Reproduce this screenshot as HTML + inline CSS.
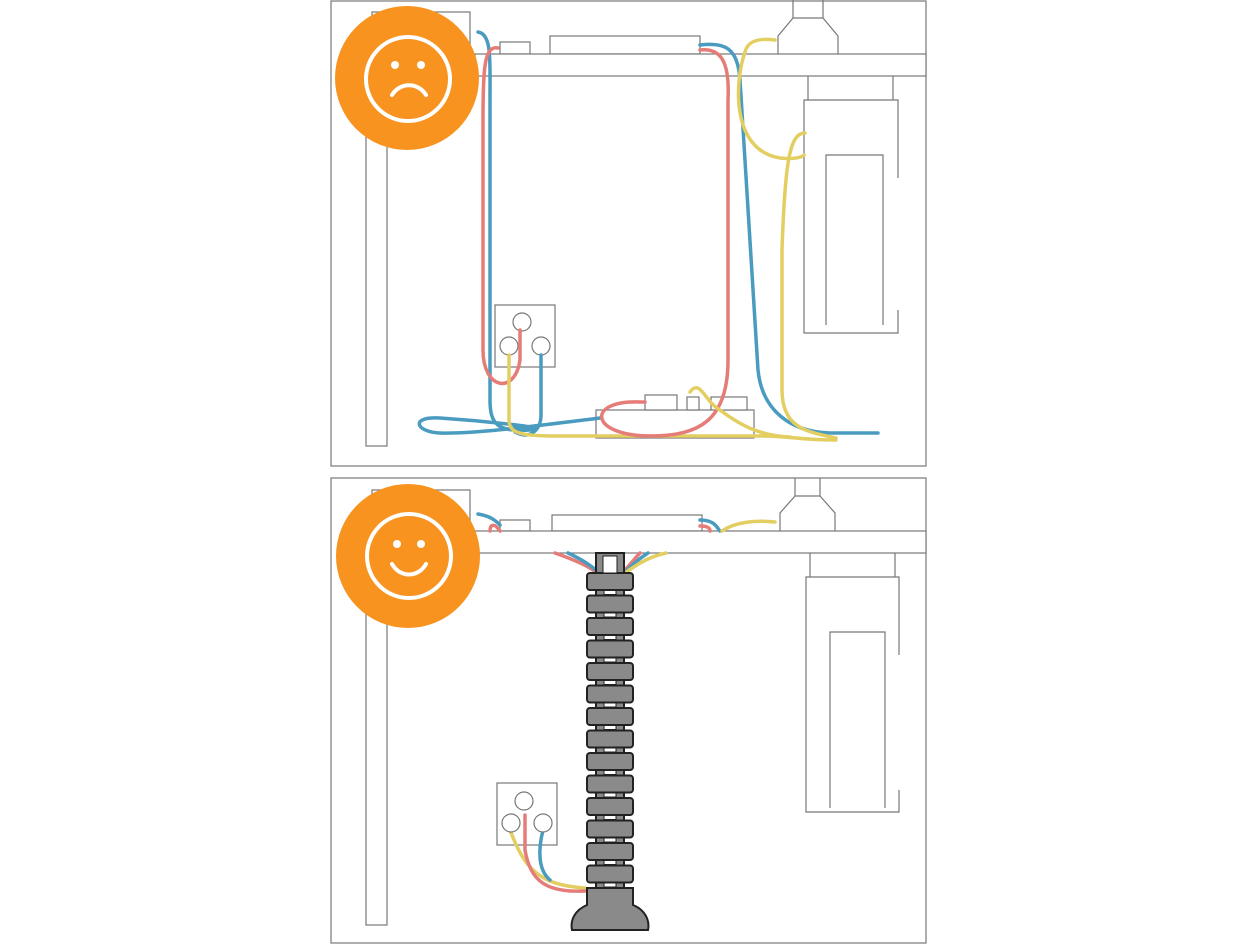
<!DOCTYPE html>
<html><head><style>html,body{margin:0;padding:0;background:#fff}svg{display:block}</style></head>
<body>
<svg width="1260" height="945" viewBox="0 0 1260 945" xmlns="http://www.w3.org/2000/svg">
<g fill="none" stroke="#777" stroke-width="1.2">
<!-- TOP PANEL -->
<rect x="331" y="1" width="595" height="465"/>
<rect x="366" y="76" width="21" height="370" fill="#fff"/>
<rect x="372" y="12" width="98" height="42" fill="#fff"/>
<rect x="500" y="42" width="30" height="12" fill="#fff"/>
<rect x="550" y="36" width="150" height="18" fill="#fff"/>
<path d="M793 0V18M823 0V18M793 18L778 36V54M823 18L838 36V54M793 18H823" />
<rect x="475" y="54" width="451" height="22" fill="#fff"/>
<path d="M808 76V100M893 76V100"/>
<path d="M898 178V100H804V333H898V310"/>
<path d="M826 325V155H883V325"/>
<rect x="495" y="305" width="60" height="62" fill="#fff"/>
<circle cx="522" cy="322" r="9" fill="#fff"/><circle cx="509" cy="346" r="9" fill="#fff"/><circle cx="541" cy="346" r="9" fill="#fff"/>
<rect x="596" y="410" width="158" height="28" fill="#fff"/>
<rect x="645" y="395" width="32" height="15" fill="#fff"/>
<rect x="687" y="397" width="12" height="13" fill="#fff"/>
<rect x="711" y="397" width="36" height="13" fill="#fff"/>
</g>
<g fill="none" stroke-width="3.5" stroke-linecap="round">
<path stroke="#4a9bc0" d="M478 32C492 34 490 60 490 100V400C490 425 498 432 530 430C560 428 470 420 440 418C410 416 415 432 440 433C470 434 520 428 600 418"/>
<path stroke="#e57c78" d="M498 48C484 45 483 70 483 120V350C483 390 515 395 520 360V330"/>
<path stroke="#4a9bc0" d="M541 355V415C541 430 530 440 515 432"/>
<path stroke="#e3ce62" d="M509 355V420C509 438 530 436 600 436H760C790 436 800 440 836 440"/>
<path stroke="#e57c78" d="M700 50C720 48 730 60 728 100V360C728 420 700 436 650 436C590 436 585 400 640 402H645"/>
<path stroke="#4a9bc0" d="M700 45C725 42 738 48 740 80L758 370C762 410 790 432 830 433H878"/>
<path stroke="#e3ce62" d="M745 52C748 40 760 38 775 40M745 52C735 80 730 150 780 158C800 160 804 155 804 155M805 133C790 133 785 160 782 250V390C782 430 810 432 836 438M690 392C700 378 705 402 720 410C740 425 760 436 790 437"/>
</g>
<circle cx="407" cy="78" r="72" fill="#f7931e"/>
<g fill="none" stroke="#fff" stroke-width="4">
<circle cx="408" cy="79" r="42"/>
<path d="M392 95C400 82 418 82 426 95" stroke-linecap="round"/>
</g>
<circle cx="395" cy="65" r="4" fill="#fff"/><circle cx="421" cy="65" r="4" fill="#fff"/>

<!-- BOTTOM PANEL -->
<g fill="none" stroke="#777" stroke-width="1.2">
<rect x="331" y="478" width="595" height="465"/>
<rect x="366" y="553" width="21" height="372" fill="#fff"/>
<rect x="372" y="490" width="98" height="41" fill="#fff"/>
<rect x="500" y="520" width="30" height="11" fill="#fff"/>
<rect x="552" y="515" width="150" height="16" fill="#fff"/>
<path d="M795 478V496M820 478V496M795 496L780 513V531M820 496L835 513V531M795 496H820"/>
<rect x="475" y="531" width="451" height="22" fill="#fff"/>
<path d="M810 553V577M895 553V577"/>
<path d="M899 655V577H806V812H899V790"/>
<path d="M830 808V632H885V808"/>
<rect x="497" y="783" width="60" height="62" fill="#fff"/>
</g>
<g fill="none" stroke-width="3.5" stroke-linecap="round">
<path stroke="#4a9bc0" d="M478 514C490 516 495 520 500 525"/>
<path stroke="#e57c78" d="M500 531C494 522 490 525 490 531"/>
<path stroke="#4a9bc0" d="M700 520C715 520 717 528 720 531"/>
<path stroke="#e57c78" d="M700 526C708 526 710 528 710 531"/>
<path stroke="#e3ce62" d="M722 531C735 522 755 520 775 522"/>
<path stroke="#e57c78" d="M555 553C575 560 590 567 597 573"/>
<path stroke="#4a9bc0" d="M568 553C583 560 592 566 599 573"/>
<path stroke="#e57c78" d="M622 573C630 565 635 558 640 553"/>
<path stroke="#4a9bc0" d="M624 573C632 565 640 558 648 553"/>
<path stroke="#e3ce62" d="M625 573C640 562 652 556 666 553"/>
<path stroke="#e3ce62" d="M510 830C525 870 540 885 585 888"/>
<path stroke="#e57c78" d="M525 815V850C530 880 545 893 585 891"/>
<path stroke="#4a9bc0" d="M543 830C538 850 538 870 550 880"/>
</g>
<g stroke="#777" stroke-width="1.2" fill="#fff">
<circle cx="524" cy="801" r="9"/><circle cx="511" cy="823" r="9"/><circle cx="543" cy="823" r="9"/>
</g>
<!-- cable spine -->
<g stroke="#222" stroke-width="2" fill="#8a8a8a">
<rect x="596" y="553" width="28" height="340"/>
<rect x="587" y="573" width="46" height="17" rx="3"/>
<rect x="587" y="595.5" width="46" height="17" rx="3"/>
<rect x="587" y="618" width="46" height="17" rx="3"/>
<rect x="587" y="640.5" width="46" height="17" rx="3"/>
<rect x="587" y="663" width="46" height="17" rx="3"/>
<rect x="587" y="685.5" width="46" height="17" rx="3"/>
<rect x="587" y="708" width="46" height="17" rx="3"/>
<rect x="587" y="730.5" width="46" height="17" rx="3"/>
<rect x="587" y="753" width="46" height="17" rx="3"/>
<rect x="587" y="775.5" width="46" height="17" rx="3"/>
<rect x="587" y="798" width="46" height="17" rx="3"/>
<rect x="587" y="820.5" width="46" height="17" rx="3"/>
<rect x="587" y="843" width="46" height="17" rx="3"/>
<rect x="587" y="865.5" width="46" height="17" rx="3"/>
<path d="M587 888H633V905C645 910 650 920 648 930H572C570 920 575 910 587 905Z"/>
</g>
<g fill="#fff" stroke="#222" stroke-width="1">
<rect x="603" y="556" width="14" height="17"/>
<rect x="604" y="590.5" width="12" height="4"/><rect x="604" y="613" width="12" height="4"/><rect x="604" y="635.5" width="12" height="4"/><rect x="604" y="658" width="12" height="4"/><rect x="604" y="680.5" width="12" height="4"/><rect x="604" y="703" width="12" height="4"/><rect x="604" y="725.5" width="12" height="4"/><rect x="604" y="748" width="12" height="4"/><rect x="604" y="770.5" width="12" height="4"/><rect x="604" y="793" width="12" height="4"/><rect x="604" y="815.5" width="12" height="4"/><rect x="604" y="838" width="12" height="4"/><rect x="604" y="860.5" width="12" height="4"/><rect x="604" y="883" width="12" height="4"/>
</g>
<circle cx="408" cy="556" r="72" fill="#f7931e"/>
<g fill="none" stroke="#fff" stroke-width="4">
<circle cx="409" cy="556" r="42"/>
<path d="M392 564C400 578 418 578 426 564" stroke-linecap="round"/>
</g>
<circle cx="397" cy="544" r="4" fill="#fff"/><circle cx="421" cy="544" r="4" fill="#fff"/>
</svg>
</body></html>
